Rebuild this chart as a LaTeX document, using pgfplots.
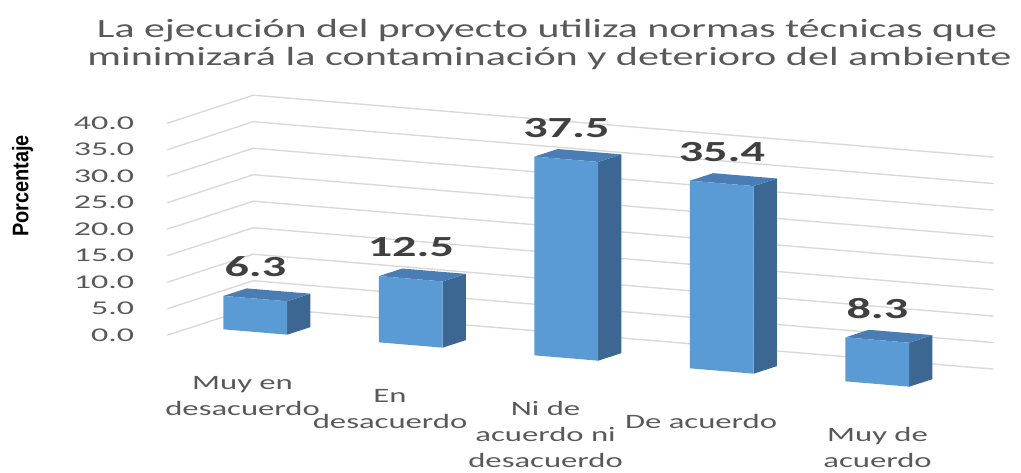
\documentclass[border=0pt]{standalone}
\usepackage{fontspec}
\setmainfont{Carlito}
\newfontfamily\arialf{Liberation Sans}
\usepackage{graphicx}
\usepackage{pgfplots}
\pgfplotsset{compat=1.18}
\definecolor{titlegray}{HTML}{595959}
\definecolor{gridc}{HTML}{D9D9D9}
\definecolor{barfront}{HTML}{5B9BD5}
\definecolor{bartop}{HTML}{4A7DB3}
\definecolor{barside}{HTML}{3B6792}
\definecolor{lblgray}{HTML}{404040}
\newcommand\cat[2][0bp]{\hspace*{#1}\scalebox{1.6}[1]{\begin{tabular}[t]{@{}c@{}}#2\end{tabular}}}
\newcommand\cuboid[3]{%
 \addplot3[fill=barside, draw=none, forget plot] coordinates {(#2,0.3,0) (#2,0.57,0) (#2,0.57,#3) (#2,0.3,#3)};
 \addplot3[fill=bartop, draw=none, forget plot] coordinates {(#1,0.3,#3) (#2,0.3,#3) (#2,0.57,#3) (#1,0.57,#3)};
 \addplot3[fill=barfront, draw=none, forget plot] coordinates {(#1,0.3,0) (#2,0.3,0) (#2,0.3,#3) (#1,0.3,#3)};
}
\begin{document}
\begin{tikzpicture}
\useasboundingbox (-167.35bp,-137.8bp) rectangle (853.65bp,335.2bp);
\begin{axis}[
  anchor=origin, at={(0,0)},
  x={(155.5bp,-13bp)}, y={(86bp,28bp)}, z={(0bp,5.3bp)},
  xmin=0, xmax=4.76, ymin=0, ymax=1, zmin=0, zmax=40,
  clip=false,
  axis line style={draw=none},
  tick style={draw=none},
  xtick={0.4,1.4,2.4,3.4,4.4},
  xticklabels={{\cat[16bp]{Muy en\\desacuerdo}},{\cat{En\\desacuerdo}},{\cat{Ni de\\acuerdo ni\\desacuerdo}},{\cat{De acuerdo}},{\cat[42bp]{Muy de\\acuerdo}}},
  xticklabel style={anchor=base, inner sep=0pt, yshift=-49bp, xshift=5bp, font=\fontsize{20.5}{26}\selectfont, text=titlegray},
  ytick=\empty,
  ztick={0,5,...,40},
  zticklabel={\scalebox{1.75}[1]{\pgfmathprintnumber[fixed,fixed zerofill,precision=1,assume math mode=true]{\tick}}\hspace*{28bp}},
  zticklabel style={anchor=east, inner sep=0pt, xshift=-5bp, font=\fontsize{19.5}{20}\selectfont, text=titlegray},
]
\pgfplotsinvokeforeach{0,5,...,40}{
  \draw[gridc, line width=1.4bp] (axis cs:0,0,#1) -- (axis cs:0,1,#1) -- (axis cs:4.76,1,#1);
}
\cuboid{0.195}{0.605}{6.3}
\cuboid{1.195}{1.605}{12.5}
\cuboid{2.195}{2.605}{37.5}
\cuboid{3.195}{3.605}{35.4}
\cuboid{4.195}{4.605}{8.3}
\addplot3[draw=none, mark=none, point meta=z,
  nodes near coords={\scalebox{1.65}[1]{\pgfmathprintnumber[fixed,fixed zerofill,precision=1,assume math mode=true]{\pgfplotspointmeta}}},
  nodes near coords style={anchor=base, inner sep=0pt, yshift=22bp, font=\fontsize{29.3}{30}\selectfont\bfseries, text=lblgray}]
  coordinates {(0.4,0.3,6.3) (1.4,0.3,12.5) (2.4,0.3,37.5) (3.4,0.3,35.4) (4.4,0.3,8.3)};
\end{axis}
\node[anchor=base, inner sep=0pt, text=titlegray] at (379.65bp,297.2bp) {\resizebox{900bp}{\height}{\fontsize{26.4}{30}\selectfont La ejecución del proyecto utiliza normas técnicas que}};
\node[anchor=base, inner sep=0pt, text=titlegray] at (382.15bp,269.7bp) {\resizebox{924bp}{\height}{\fontsize{26.4}{30}\selectfont minimizará la contaminación y deterioro del ambiente}};
\node[inner sep=0pt] at (-144.85bp,149.2bp) {\rotatebox{90}{\resizebox*{102bp}{21bp}{\arialf\bfseries Porcentaje}}};
\end{tikzpicture}
\end{document}
